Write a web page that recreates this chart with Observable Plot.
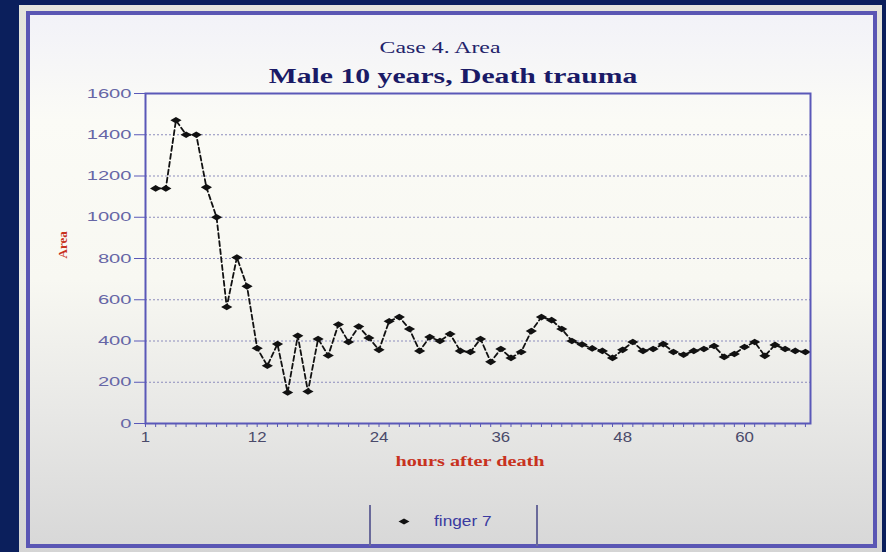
<!DOCTYPE html>
<html>
<head>
<meta charset="utf-8">
<script src="https://cdn.jsdelivr.net/npm/d3@7"></script>
<script src="https://cdn.jsdelivr.net/npm/@observablehq/plot@0.6"></script>
<style>
  html, body { margin: 0; padding: 0; background: #0b1f5c; }
  #wrap { position: relative; width: 886px; height: 552px; overflow: hidden; background: #0b1f5c; }
  #outer { position: absolute; left: 19px; top: 5px; width: 863px; height: 550px;
           background: linear-gradient(to bottom, #e4e4dc 0%, #ecece6 50%, #d4d4d4 100%); }
  #panel { position: absolute; left: 26px; top: 11px; width: 843px; height: 529px;
           border: 4px solid #5a56b4;
           background: linear-gradient(to bottom, #f2f2f8 0%, #fbfbf6 20%, #f8f8f2 50%, #e8e8e6 75%, #d8d8d8 100%); }
  #chart { position: absolute; left: 0; top: 0; }
  .legline { position: absolute; width: 2px; background: #6a6a9a; }
  #legtext { position: absolute; left: 434px; top: 512px; font: 15px "Liberation Sans", sans-serif; color: #3a3aa0; transform: scaleX(1.15); transform-origin: left center; }
  #legmark { position: absolute; left: 398px; top: 518px; width: 12px; height: 7px; }
</style>
</head>
<body>
<div id="wrap">
  <div id="outer"></div>
  <div id="panel"></div>
  <div id="chart"></div>
  <div class="legline" style="left:369px; top:505px; height:41px;"></div>
  <div class="legline" style="left:536px; top:505px; height:41px;"></div>
  <svg id="legmark" viewBox="-6 -3.5 12 7"><path d="M-5.5,0L0,-3L5.5,0L0,3Z" fill="#111"/></svg>
  <div id="legtext">finger 7</div>
</div>
<script>
// Data
const titleLines = ["Case 4. Area", "Male 10 years, Death trauma"];
const hours = [2,3,4,5,6,7,8,9,10,11,12,13,14,15,16,17,18,19,20,21,22,23,24,25,26,27,28,29,30,31,32,33,34,35,36,37,38,39,40,41,42,43,44,45,46,47,48,49,50,51,52,53,54,55,56,57,58,59,60,61,62,63,64,65,66];
const area = [1140,1140,1470,1400,1400,1145,1000,565,805,665,365,280,385,150,425,155,410,330,480,395,470,415,357,496,516,458,352,419,400,434,352,347,410,299,361,318,347,448,516,501,458,400,383,364,352,318,357,395,352,361,385,347,333,352,361,376,323,337,371,395,328,381,361,352,347];
const xTickValues = [1,12,24,36,48,60];
const yTickValues = [0,200,400,600,800,1000,1200,1400,1600];
const gridValues = [200,400,600,800,1000,1200,1400];
const xLabel = "hours after death";
const yLabel = "Area";

const data = hours.map((h, i) => ({hour: h, area: area[i]}));

const wideDiamond = {
  draw(context, size) {
    const r = Math.sqrt(size / Math.PI);
    context.moveTo(-1.7 * r, 0);
    context.lineTo(0, -r);
    context.lineTo(1.7 * r, 0);
    context.lineTo(0, r);
    context.closePath();
  }
};

const chart = Plot.plot({
  width: 886,
  height: 552,
  marginLeft: 145,
  marginRight: 76,
  marginTop: 93,
  marginBottom: 129,
  style: {background: "transparent", fontFamily: "Liberation Sans, sans-serif"},
  x: {domain: [1, 66.5], axis: null},
  y: {domain: [0, 1600], axis: null},
  marks: [
    Plot.gridY(gridValues, {stroke: "#8c8cbc", strokeOpacity: 1, strokeDasharray: "2,2", strokeWidth: 1}),
    Plot.line(data, {x: "hour", y: "area", stroke: "#111", strokeWidth: 1.8, strokeDasharray: "5,3"}),
    Plot.dot(data, {x: "hour", y: "area", symbol: wideDiamond, r: 3.3, fill: "#111", stroke: "none"}),
    Plot.frame({stroke: "#5a58b8", strokeWidth: 2}),
    Plot.axisY(yTickValues, {anchor: "left", tickSize: 11, tickPadding: 3, stroke: "#5a58b8", fill: "#6666a6", fontSize: 13, label: null, tickFormat: d => String(d)}),
    Plot.axisX(d3.range(1, 67), {anchor: "bottom", tickSize: 4, tickFormat: () => "", stroke: "#5a58b8", label: null}),
    Plot.axisX(xTickValues, {anchor: "bottom", tickSize: 0, tickPadding: 9, fill: "#4a4a6a", fontSize: 14, label: null}),
    Plot.text([xLabel], {frameAnchor: "bottom", dx: -8, dy: 42, fill: "#c8321e", fontSize: 15, fontWeight: "bold", fontFamily: "Liberation Serif, serif"}),
    Plot.text([yLabel], {frameAnchor: "left", dx: -83, rotate: -90, fill: "#c8321e", fontSize: 13, fontWeight: "bold", fontFamily: "Liberation Serif, serif"}),
    Plot.text([titleLines[0]], {frameAnchor: "top", dx: -38, dy: -53, fill: "#22226a", fontSize: 17, fontFamily: "Liberation Serif, serif"}),
    Plot.text([titleLines[1]], {frameAnchor: "top", dx: -25, dy: -26, fill: "#1a1a66", fontSize: 22, fontWeight: "bold", fontFamily: "Liberation Serif, serif"})
  ]
});
// stretch lettering horizontally to match the wide look of the reference
const sel = d3.select(chart);
const yTickStrings = yTickValues.map(String);
const xTickStrings = xTickValues.map(String);
sel.selectAll("text").each(function() {
  const t = this.textContent;
  let s = 1;
  if (t === titleLines[1]) s = 1.35;
  else if (t === titleLines[0]) s = 1.4;
  else if (t === xLabel) s = 1.35;
  else if (yTickStrings.includes(t) && this.getAttribute("text-anchor") !== "middle") s = 1.55;
  else if (xTickStrings.includes(t)) s = 1.2;
  if (s !== 1) {
    const tr = this.getAttribute("transform") || "";
    this.setAttribute("transform", (tr + " scale(" + s + ",1)").trim());
  }
});
document.getElementById("chart").appendChild(chart);
</script>
</body>
</html>
